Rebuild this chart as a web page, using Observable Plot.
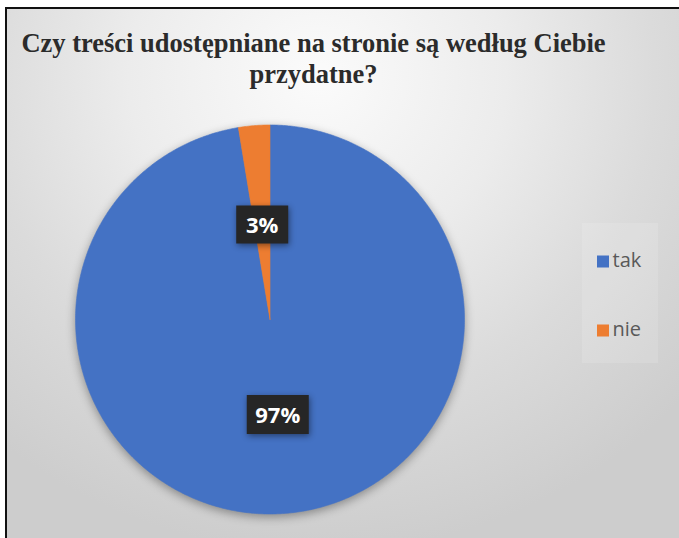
<!DOCTYPE html>
<html>
<head>
<meta charset="utf-8">
<script src="https://cdn.jsdelivr.net/npm/d3@7"></script>
<script src="https://cdn.jsdelivr.net/npm/@observablehq/plot@0.6"></script>
<style>
  html, body { margin: 0; padding: 0; background: #ffffff; overflow: hidden; }
  #frame {
    position: absolute; left: 5px; top: 7px; width: 690px; height: 560px;
    border: 2px solid #111;
    background: radial-gradient(ellipse 72% 85% at 45% 12%, #fbfbfb 0%, #ececec 38%, #dbdbdb 68%, #cdcdcd 100%);
    overflow: hidden;
  }
  #title {
    position: absolute; left: 0; top: 0; width: 613px; height: 100px;
    box-sizing: border-box; padding-top: 19px;
    font-family: "Liberation Serif", "Times New Roman", serif; font-weight: bold;
    font-size: 26.5px; line-height: 31px; color: #2b2b2b; text-align: center;
  }
  #legendbox {
    position: absolute; left: 575px; top: 214px; width: 76px; height: 140px;
    background: rgba(255,255,255,0.13);
  }
  #chart { position: absolute; left: 0; top: 100px; }
</style>
</head>
<body>
<div id="frame">
  <div id="title">Czy treści udostępniane na stronie są według Ciebie<br>przydatne?</div>
  <div id="legendbox"></div>
  <div id="chart"></div>
</div>
<script>
const categories = ["tak", "nie"];
const values = [97.4, 2.6];
const labels = ["97%", "3%"];
const colors = ["#4472C4", "#ED7D31"];

// layout constants (pixels inside the SVG)
const W = 680, H = 429;
const CX = 262.5, CY = 210, R = 194.5;
const legendX = 595.5, legendTextX = 605;
const legendY = [152, 221];
const labelR = 0.49;

const data = categories.map((c, i) => ({cat: c, value: values[i], label: labels[i]}));
const arcs = d3.pie().sort(null).value(d => d.value)(data);

// slice outlines in unit-circle coordinates
const pts = [];
for (const a of arcs) {
  pts.push({cat: a.data.cat, x: 0, y: 0});
  const n = Math.max(2, Math.ceil((a.endAngle - a.startAngle) / (Math.PI / 360)));
  for (let k = 0; k <= n; k++) {
    const t = a.startAngle + (a.endAngle - a.startAngle) * k / n;
    pts.push({cat: a.data.cat, x: Math.sin(t), y: Math.cos(t)});
  }
  pts.push({cat: a.data.cat, x: 0, y: 0});
}
const labelPts = arcs.map(a => {
  const m = (a.startAngle + a.endAngle) / 2;
  return {cat: a.data.cat, label: a.data.label, x: labelR * Math.sin(m), y: labelR * Math.cos(m)};
});

const toX = px => (px - CX) / R;
const toY = py => (CY - py) / R;
const legend = categories.map((c, i) => ({cat: c, x: toX(legendX), tx: toX(legendTextX), y: toY(legendY[i])}));

const rectSymbol = (w, h) => ({draw(ctx) { ctx.rect(-w / 2, -h / 2, w, h); }});

const plot = Plot.plot({
  width: W, height: H,
  margin: 0,
  style: {background: "transparent", overflow: "visible"},
  x: {domain: [-1, 1], range: [CX - R, CX + R], axis: null},
  y: {domain: [-1, 1], range: [CY + R, CY - R], axis: null},
  color: {domain: categories, range: colors},
  marks: [
    Plot.line(pts, {x: "x", y: "y", z: "cat", fill: "cat", stroke: "cat", strokeWidth: 0.6, curve: "linear"}),
    Plot.dot(labelPts.filter(d => d.cat === "tak"), {x: "x", y: "y", symbol: rectSymbol(62, 39), fill: "#262626", stroke: null, r: 10}),
    Plot.dot(labelPts.filter(d => d.cat === "nie"), {x: "x", y: "y", symbol: rectSymbol(52, 38), fill: "#262626", stroke: null, r: 10}),
    Plot.text(labelPts, {x: "x", y: "y", text: "label", fill: "white", fontSize: 22, fontWeight: "bold", fontFamily: "Open Sans", dy: 1}),
    Plot.dot(legend, {x: "x", y: "y", fill: "cat", stroke: null, symbol: rectSymbol(12, 12), r: 6}),
    Plot.text(legend, {x: "tx", y: "y", text: "cat", textAnchor: "start", fill: "#595959", fontSize: 20, fontFamily: "Open Sans", dy: -1})
  ]
});

d3.select(plot).selectAll('g[aria-label="line"]').style("filter", "drop-shadow(0px 3px 5px rgba(0,0,0,0.35))");
d3.select(plot).selectAll('g[aria-label="dot"]').filter((d, i) => i < 2).style("filter", "drop-shadow(1px 2px 3px rgba(0,0,0,0.45))");
document.getElementById("chart").appendChild(plot);
</script>
</body>
</html>
